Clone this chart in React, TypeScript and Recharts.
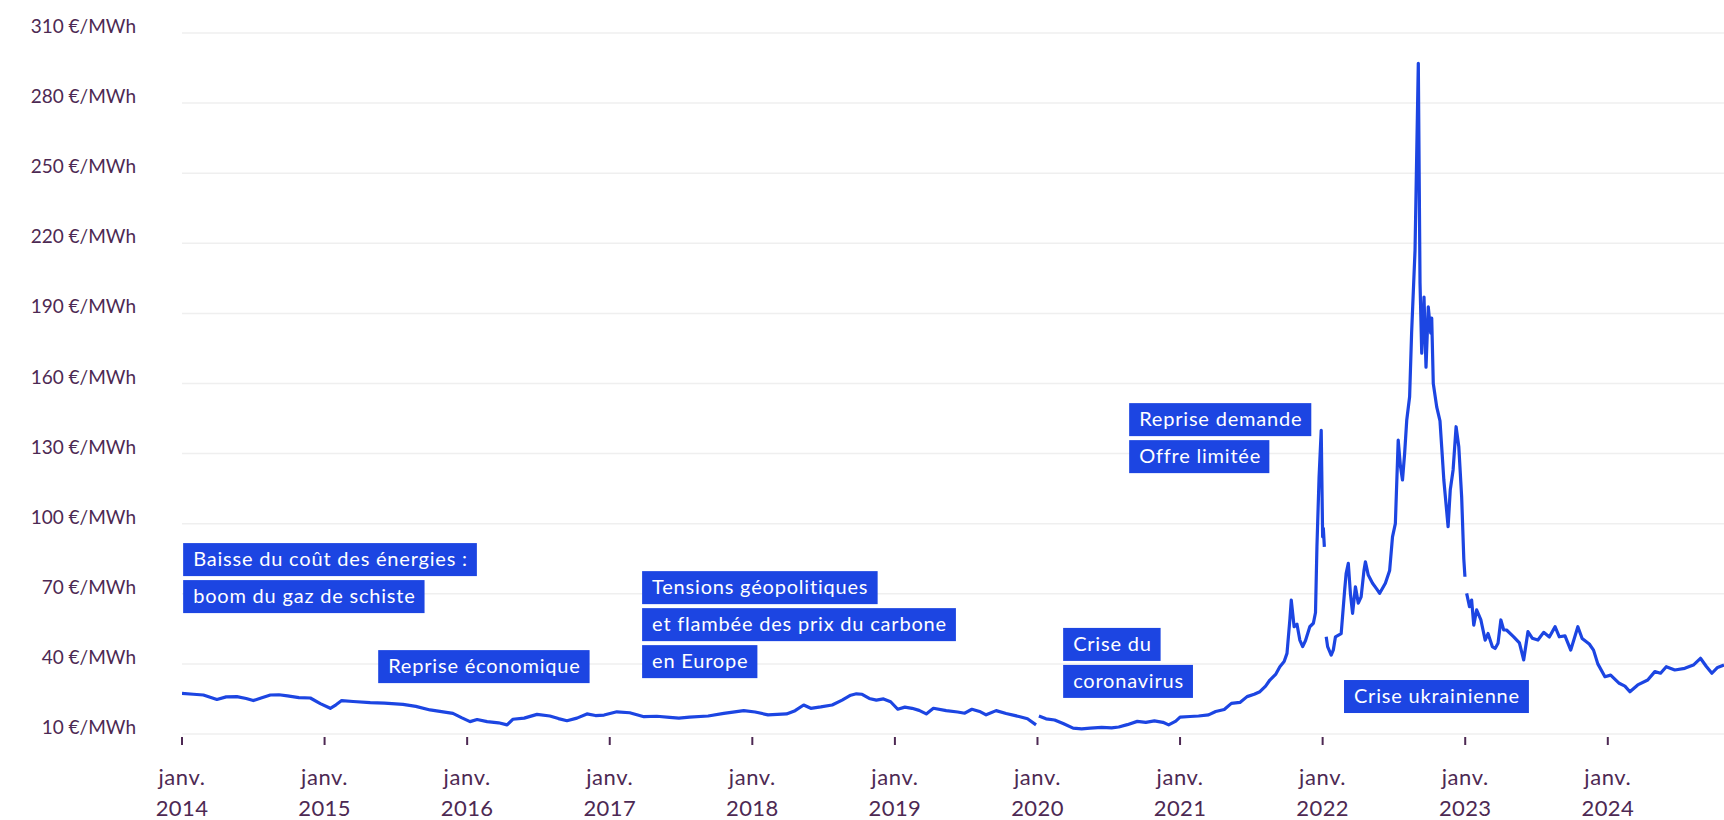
import React from "react";
import { CartesianGrid, Line, LineChart, ReferenceDot, XAxis, YAxis } from "recharts";

// [year fraction, €/MWh], split where the line breaks
const prices2014to2019: [number, number][] = [
  [2014.0, 27.4], [2014.08, 27.0], [2014.15, 26.7], [2014.245, 24.8], [2014.31, 25.9],
  [2014.385, 26.0], [2014.45, 25.2], [2014.5, 24.3], [2014.56, 25.5], [2014.62, 26.7],
  [2014.68, 26.8], [2014.74, 26.3], [2014.82, 25.6], [2014.9, 25.4], [2014.97, 23.0],
  [2015.04, 21.0], [2015.08, 22.5], [2015.12, 24.3], [2015.2, 23.9], [2015.32, 23.4],
  [2015.42, 23.2], [2015.55, 22.7], [2015.64, 21.8], [2015.74, 20.3], [2015.82, 19.6],
  [2015.9, 18.8], [2015.96, 17.0], [2016.02, 15.3], [2016.07, 16.2], [2016.14, 15.3],
  [2016.22, 14.8], [2016.28, 13.9], [2016.32, 16.3], [2016.4, 16.8], [2016.49, 18.4],
  [2016.58, 17.7], [2016.64, 16.6], [2016.7, 15.7], [2016.77, 16.8], [2016.84, 18.6],
  [2016.9, 17.9], [2016.96, 18.1], [2017.05, 19.5], [2017.14, 19.1], [2017.24, 17.4],
  [2017.33, 17.6], [2017.42, 17.1], [2017.485, 16.8], [2017.56, 17.2], [2017.69, 17.7],
  [2017.8, 18.8], [2017.94, 20.0], [2018.02, 19.4], [2018.11, 18.2], [2018.24, 18.6],
  [2018.3, 20.0], [2018.36, 22.4], [2018.41, 21.0], [2018.48, 21.6], [2018.56, 22.4],
  [2018.63, 24.5], [2018.69, 26.6], [2018.73, 27.2], [2018.77, 27.0], [2018.82, 25.2],
  [2018.87, 24.5], [2018.92, 25.0], [2018.97, 23.8], [2019.02, 20.6], [2019.07, 21.5],
  [2019.12, 21.0], [2019.17, 20.1], [2019.22, 18.6], [2019.27, 21.0], [2019.36, 20.0],
  [2019.44, 19.4], [2019.49, 18.9], [2019.54, 20.6], [2019.6, 19.5], [2019.64, 18.2],
  [2019.71, 20.0], [2019.78, 18.8], [2019.87, 17.5], [2019.93, 16.5], [2019.99, 13.9],
];

const prices2020to2021: [number, number][] = [
  [2020.01, 17.7], [2020.06, 16.5], [2020.12, 16.0], [2020.18, 14.5], [2020.25, 12.5],
  [2020.31, 12.2], [2020.37, 12.5], [2020.45, 12.8], [2020.52, 12.6], [2020.57, 13.0],
  [2020.63, 14.0], [2020.7, 15.4], [2020.76, 15.0], [2020.82, 15.6], [2020.88, 15.0],
  [2020.92, 13.9], [2020.97, 15.5], [2021.0, 17.2], [2021.07, 17.5], [2021.13, 17.7],
  [2021.2, 18.2], [2021.25, 19.6], [2021.31, 20.5], [2021.36, 23.1], [2021.42, 23.5],
  [2021.47, 26.0], [2021.52, 27.0], [2021.56, 28.1], [2021.6, 30.5], [2021.63, 33.1],
  [2021.67, 35.5], [2021.7, 38.8], [2021.73, 41.0], [2021.75, 44.5], [2021.77, 58.8],
  [2021.78, 67.3], [2021.8, 55.9], [2021.82, 57.0], [2021.84, 50.2], [2021.86, 47.4],
  [2021.88, 50.0], [2021.91, 55.9], [2021.935, 57.4], [2021.95, 62.0], [2021.96, 90.1],
  [2021.975, 120.0], [2021.99, 140.0], [2022.0, 94.4], [2022.005, 98.0], [2022.012, 90.1],
];

const prices2022: [number, number][] = [
  [2022.025, 51.6], [2022.035, 47.4], [2022.06, 43.8], [2022.075, 46.0], [2022.09, 51.6],
  [2022.13, 53.0], [2022.155, 72.0], [2022.165, 78.8], [2022.18, 83.0], [2022.195, 70.0],
  [2022.21, 61.6], [2022.23, 73.0], [2022.25, 66.0], [2022.27, 68.7], [2022.29, 80.0],
  [2022.3, 83.7], [2022.32, 78.0], [2022.35, 74.5], [2022.38, 72.0], [2022.4, 70.2],
  [2022.44, 74.5], [2022.47, 80.0], [2022.49, 94.4], [2022.51, 100.0], [2022.53, 135.8],
  [2022.545, 125.0], [2022.56, 118.7], [2022.575, 130.0], [2022.59, 144.4], [2022.61, 154.3],
  [2022.624, 181.6], [2022.648, 217.0], [2022.671, 297.0], [2022.683, 203.0], [2022.695, 173.0],
  [2022.711, 197.0], [2022.725, 167.0], [2022.741, 192.8], [2022.758, 181.6], [2022.765, 188.0],
  [2022.776, 160.0], [2022.8, 150.0], [2022.823, 144.0], [2022.835, 132.9], [2022.85, 118.7],
  [2022.88, 98.7], [2022.895, 114.4], [2022.915, 123.0], [2022.936, 141.5], [2022.955, 132.9],
  [2022.975, 111.5], [2022.99, 85.0], [2022.998, 77.3],
];

const prices2023to2024: [number, number][] = [
  [2023.01, 70.2], [2023.03, 64.5], [2023.045, 67.3], [2023.06, 56.6], [2023.08, 63.1],
  [2023.11, 58.8], [2023.14, 50.2], [2023.16, 53.0], [2023.19, 47.4], [2023.21, 46.6],
  [2023.23, 48.8], [2023.25, 58.8], [2023.27, 54.5], [2023.29, 54.5], [2023.34, 51.6],
  [2023.38, 49.0], [2023.41, 41.7], [2023.44, 53.8], [2023.47, 51.0], [2023.51, 50.2],
  [2023.55, 53.5], [2023.59, 51.5], [2023.63, 55.9], [2023.66, 51.6], [2023.7, 52.0],
  [2023.74, 45.9], [2023.79, 55.9], [2023.82, 50.9], [2023.87, 48.5], [2023.9, 45.9],
  [2023.93, 40.0], [2023.98, 34.5], [2024.02, 35.2], [2024.08, 31.7], [2024.12, 30.5],
  [2024.155, 28.1], [2024.21, 31.0], [2024.28, 33.1], [2024.33, 36.7], [2024.37, 36.0],
  [2024.41, 38.8], [2024.47, 37.4], [2024.54, 38.1], [2024.6, 39.5], [2024.65, 42.4],
  [2024.69, 39.0], [2024.73, 36.0], [2024.77, 38.5], [2024.815, 39.5],
];

const yearTicks = [2014, 2015, 2016, 2017, 2018, 2019, 2020, 2021, 2022, 2023, 2024];
const priceTicks = [10, 40, 70, 100, 130, 160, 190, 220, 250, 280, 310];

const annotations = [
  { date: 2014.008, value: 91.7, lines: ["Baisse du coût des énergies :", "boom du gaz de schiste"] },
  { date: 2015.376, value: 45.9, lines: ["Reprise économique"] },
  { date: 2017.227, value: 79.7, lines: ["Tensions géopolitiques", "et flambée des prix du carbone", "en Europe"] },
  { date: 2020.18, value: 55.4, lines: ["Crise du", "coronavirus"] },
  { date: 2020.643, value: 151.6, lines: ["Reprise demande", "Offre limitée"] },
  { date: 2022.15, value: 33.1, lines: ["Crise ukrainienne"] },
];

const FONT = "Lato, 'Noto Sans', sans-serif";
const AXIS_COLOR = "#4d2953";
const BLUE = "#1c45e2";
const BOX_FONT_SIZE = 20;
const BOX_SPACING = 0.8;

const toRows = (pairs: [number, number][]) => pairs.map(([t, price]) => ({ t, price }));

const chartData = [
  ...toRows(prices2014to2019),
  { t: 2019.998, price: null },
  ...toRows(prices2020to2021),
  { t: 2022.018, price: null },
  ...toRows(prices2022),
  { t: 2023.003, price: null },
  ...toRows(prices2023to2024),
];

let measureCtx: CanvasRenderingContext2D | null = null;
const textWidth = (text: string) => {
  if (!measureCtx) measureCtx = document.createElement("canvas").getContext("2d");
  if (!measureCtx) return text.length * 10.5;
  measureCtx.font = `${BOX_FONT_SIZE}px Lato`;
  return measureCtx.measureText(text).width + text.length * BOX_SPACING;
};

const AnnotationBox = ({ cx, cy, lines }: { cx?: number; cy?: number; lines: string[] }) => {
  if (cx == null || cy == null) return null;
  return (
    <g>
      {lines.map((line, i) => {
        const top = cy + i * 37;
        return (
          <g key={line}>
            <rect x={cx} y={top} width={textWidth(line) + 19} height={33} fill={BLUE} />
            <text
              x={cx + 10}
              y={top + 23}
              fill="#ffffff"
              fontSize={BOX_FONT_SIZE}
              fontFamily={FONT}
              letterSpacing={BOX_SPACING}
            >
              {line}
            </text>
          </g>
        );
      })}
    </g>
  );
};

const YTick = ({ x, y, payload }: any) => (
  <text x={x} y={y} textAnchor="end" fill={AXIS_COLOR} fontSize={19} fontFamily={FONT}>
    {`${payload.value} €/MWh`}
  </text>
);

const XTick = ({ x, y, payload }: any) => (
  <g>
    <line x1={x} x2={x} y1={y + 3} y2={y + 11} stroke={AXIS_COLOR} strokeWidth={2} />
    <text x={x} y={y + 51} textAnchor="middle" fill={AXIS_COLOR} fontSize={22} fontFamily={FONT} letterSpacing={0.6}>
      janv.
    </text>
    <text x={x} y={y + 82} textAnchor="middle" fill={AXIS_COLOR} fontSize={22} fontFamily={FONT} letterSpacing={0.4}>
      {payload.value}
    </text>
  </g>
);

export default function App() {
  return (
    <div style={{ position: "absolute", left: 0, top: 0, width: 1724, height: 820, background: "#fff" }}>
      <LineChart width={1724} height={820} data={chartData} margin={{ top: 33, right: 0, left: 0, bottom: 0 }}>
        <CartesianGrid vertical={false} stroke="#efefef" strokeWidth={1.5} />
        <XAxis
          type="number"
          dataKey="t"
          domain={[2014, 2024.815]}
          ticks={yearTicks}
          allowDataOverflow
          axisLine={false}
          tickLine={false}
          tickSize={0}
          tickMargin={0}
          height={86}
          tick={<XTick />}
          interval={0}
        />
        <YAxis
          domain={[10, 310]}
          ticks={priceTicks}
          allowDataOverflow
          axisLine={false}
          tickLine={false}
          tickSize={0}
          tickMargin={46}
          width={182}
          tick={<YTick />}
          interval={0}
        />
        <Line
          type="linear"
          dataKey="price"
          stroke={BLUE}
          strokeWidth={3.2}
          strokeLinejoin="round"
          dot={false}
          activeDot={false}
          connectNulls={false}
          isAnimationActive={false}
        />
        {annotations.map((a) => (
          <ReferenceDot
            key={a.lines[0]}
            x={a.date}
            y={a.value}
            r={0}
            ifOverflow="visible"
            shape={(props: any) => <AnnotationBox cx={props.cx} cy={props.cy} lines={a.lines} />}
          />
        ))}
      </LineChart>
    </div>
  );
}
